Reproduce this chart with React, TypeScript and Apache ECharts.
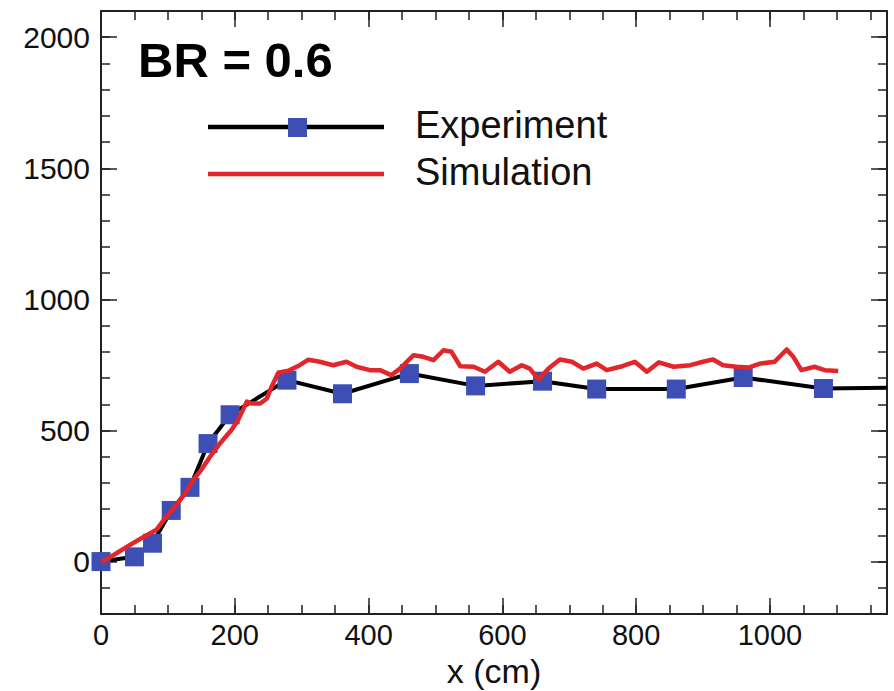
import React, { useEffect, useRef } from "react";
import * as echarts from "echarts";

const expX = [0, 50, 77, 105, 133, 160, 193, 278, 361, 461, 560, 660, 741, 860, 960, 1080, 1175];
const expY = [0, 18, 70, 195, 283, 450, 560, 692, 640, 717, 670, 688, 658, 658, 702, 660, 663];

const simX = [0, 8, 36, 61, 83, 98, 113, 126, 138, 150, 163, 178, 195, 205, 218, 225, 238, 248, 255, 265, 280, 297, 310, 327, 347, 367, 382, 402, 417, 434, 447, 467, 482, 497, 512, 524, 537, 557, 574, 594, 611, 629, 641, 654, 669, 686, 704, 721, 741, 756, 776, 798, 816, 834, 856, 881, 900, 915, 930, 950, 968, 985, 1007, 1025, 1035, 1047, 1067, 1082, 1102];
const simY = [0, 8, 52, 90, 122, 172, 217, 261, 312, 350, 400, 451, 502, 540, 610, 603, 603, 622, 667, 720, 728, 749, 770, 762, 749, 762, 743, 730, 730, 711, 736, 787, 781, 768, 806, 800, 745, 743, 724, 762, 724, 749, 736, 695, 736, 771, 762, 736, 755, 730, 743, 762, 724, 760, 743, 749, 762, 771, 749, 743, 740, 755, 762, 809, 781, 730, 743, 730, 727];

const xMajorTicks = [0, 200, 400, 600, 800, 1000];
const yMajorTicks = [0, 500, 1000, 1500, 2000];

const X_MIN = 0;
const X_MAX = 1175;
const Y_MIN = -200;
const Y_MAX = 2100;

const FONT = '"Liberation Sans", Arial, Helvetica, sans-serif';

export default function App() {
  const ref = useRef<HTMLDivElement>(null);

  useEffect(() => {
    if (!ref.current) return;
    const chart = echarts.init(ref.current, null, { renderer: "svg" });

    const axisLineStyle = { color: "#222", width: 2 };
    const tickStyle = { color: "#222", width: 1.5 };

    const xMajor = (position: string, showLabel: boolean, withName: boolean) => ({
      type: "value",
      position,
      min: X_MIN,
      max: X_MAX,
      interval: 200,
      axisLine: { show: true, onZero: false, lineStyle: axisLineStyle },
      axisTick: { show: true, inside: true, length: 16, lineStyle: tickStyle },
      axisLabel: {
        show: showLabel,
        fontSize: 29,
        fontFamily: FONT,
        color: "#111",
        margin: 6,
        formatter: (v: number) => (xMajorTicks.includes(v) ? String(v) : ""),
      },
      splitLine: { show: false },
      ...(withName
        ? {
            name: "x (cm)",
            nameLocation: "middle",
            nameGap: 39,
            nameTextStyle: { fontSize: 34, fontFamily: FONT, color: "#111" },
          }
        : {}),
    });
    const xMinor = (position: string) => ({
      type: "value",
      position,
      min: X_MIN,
      max: X_MAX,
      interval: 50,
      axisLine: { show: false, onZero: false },
      axisTick: { show: true, inside: true, length: 9, lineStyle: tickStyle },
      axisLabel: { show: false },
      splitLine: { show: false },
    });
    const yMajor = (position: string, showLabel: boolean) => ({
      type: "value",
      position,
      min: Y_MIN,
      max: Y_MAX,
      splitNumber: 5,
      minInterval: 500,
      maxInterval: 500,
      axisLine: { show: true, onZero: false, lineStyle: axisLineStyle },
      axisTick: { show: true, inside: true, length: 16, lineStyle: tickStyle },
      axisLabel: {
        show: showLabel,
        fontSize: 30,
        fontFamily: FONT,
        color: "#111",
        margin: 11,
        formatter: (v: number) => (yMajorTicks.includes(v) ? String(v) : ""),
      },
      splitLine: { show: false },
    });
    const yMinor = (position: string) => ({
      type: "value",
      position,
      min: Y_MIN,
      max: Y_MAX,
      interval: 100,
      axisLine: { show: false, onZero: false },
      axisTick: { show: true, inside: true, length: 9, lineStyle: tickStyle },
      axisLabel: { show: false },
      splitLine: { show: false },
    });

    const expData = expX.map((x, i) =>
      i === expX.length - 1 ? { value: [x, expY[i]], symbol: "none" } : [x, expY[i]]
    );
    const simData = simX.map((x, i) => [x, simY[i]]);

    chart.setOption({
      animation: false,
      backgroundColor: "#fff",
      grid: {
        left: 101,
        right: 7,
        top: 11,
        bottom: 77,
        containLabel: false,
        outerBoundsMode: "none",
      },
      xAxis: [xMajor("bottom", true, true), xMinor("bottom"), xMajor("top", false, false), xMinor("top")],
      yAxis: [yMajor("left", true), yMinor("left"), yMajor("right", false), yMinor("right")],
      series: [
        {
          name: "Experiment",
          type: "line",
          xAxisIndex: 0,
          yAxisIndex: 0,
          data: expData,
          symbol: "rect",
          symbolSize: 19,
          itemStyle: { color: "#3d4fb5" },
          lineStyle: { color: "#000", width: 4 },
          z: 2,
        },
        {
          name: "Simulation",
          type: "line",
          xAxisIndex: 0,
          yAxisIndex: 0,
          data: simData,
          symbol: "none",
          lineStyle: { color: "#e3262b", width: 4.5, join: "round" },
          z: 3,
        },
      ],
      graphic: [
        {
          type: "text",
          x: 138,
          y: 60,
          style: {
            text: "BR = 0.6",
            fontSize: 49,
            fontWeight: "bold",
            fontFamily: FONT,
            fill: "#000",
            verticalAlign: "middle",
          },
        },
        {
          type: "line",
          shape: { x1: 208, y1: 127, x2: 384, y2: 127 },
          style: { stroke: "#000", lineWidth: 4.5 },
        },
        {
          type: "rect",
          shape: { x: 288, y: 118, width: 19, height: 19 },
          style: { fill: "#3d4fb5" },
        },
        {
          type: "text",
          x: 415,
          y: 125,
          style: {
            text: "Experiment",
            fontSize: 38,
            fontFamily: FONT,
            fill: "#111",
            verticalAlign: "middle",
          },
        },
        {
          type: "line",
          shape: { x1: 208, y1: 174, x2: 384, y2: 174 },
          style: { stroke: "#e3262b", lineWidth: 4.5 },
        },
        {
          type: "text",
          x: 415,
          y: 172,
          style: {
            text: "Simulation",
            fontSize: 38,
            fontFamily: FONT,
            fill: "#111",
            verticalAlign: "middle",
          },
        },
      ],
    });

    return () => chart.dispose();
  }, []);

  return (
    <div
      ref={ref}
      style={{ position: "fixed", left: 0, top: 0, width: 894, height: 691, background: "#fff" }}
    />
  );
}
